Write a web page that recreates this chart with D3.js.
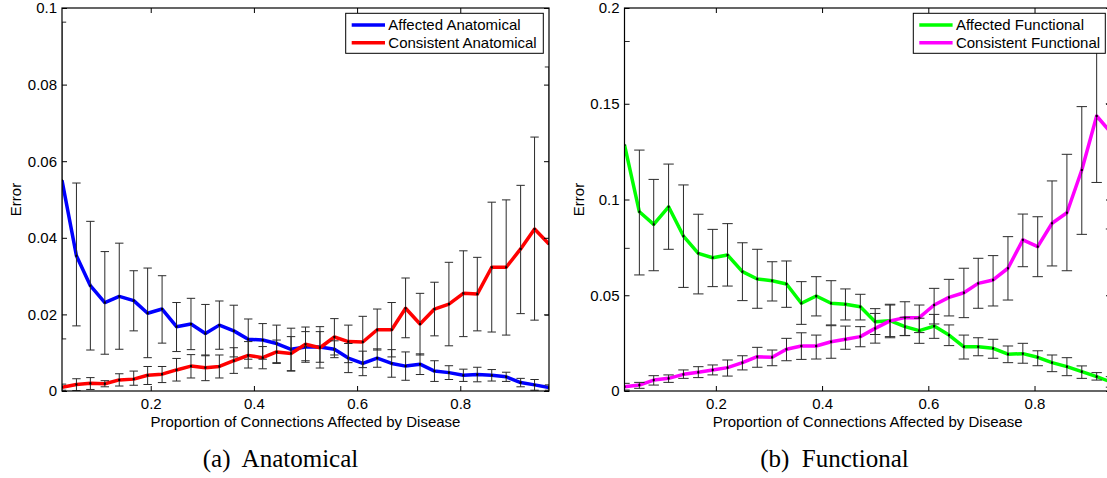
<!DOCTYPE html>
<html>
<head>
<meta charset="utf-8">
<script src="https://cdn.jsdelivr.net/npm/d3@7"></script>
<style>
  body { margin: 0; background: #fff; }
  svg text { font-family: "Liberation Sans", Arial, Helvetica, sans-serif; }
</style>
</head>
<body>
<div id="chart"></div>
<script>
// proportion of connections affected (x values)
const proportion = [0.028, 0.056, 0.083, 0.111, 0.139, 0.167, 0.194, 0.222, 0.250, 0.278,
  0.306, 0.333, 0.361, 0.389, 0.417, 0.444, 0.472, 0.500, 0.528, 0.556,
  0.583, 0.611, 0.639, 0.667, 0.694, 0.722, 0.750, 0.778, 0.806, 0.833,
  0.861, 0.889, 0.917, 0.944, 0.972];

// (a) anatomical
const affAnat = [0.0550, 0.0353, 0.0275, 0.0231, 0.0247, 0.0236, 0.0203, 0.0214, 0.0168, 0.0175,
  0.0150, 0.0172, 0.0157, 0.0135, 0.0133, 0.0124, 0.0109, 0.0115, 0.0115, 0.0109,
  0.0086, 0.0072, 0.0086, 0.0072, 0.0065, 0.0070, 0.0052, 0.0048, 0.0041, 0.0043,
  0.0041, 0.0037, 0.0022, 0.0016, 0.0009];
const affAnatLo = [0.0136, 0.0170, 0.0107, 0.0096, 0.0109, 0.0157, 0.0087, 0.0125, 0.0103, 0.0108,
  0.0092, 0.0109, 0.0089, 0.0083, 0.0083, 0.0074, 0.0052, 0.0075, 0.0075, 0.0087,
  0.0048, 0.0040, 0.0062, 0.0036, 0.0028, 0.0043, 0.0025, 0.0030, 0.0025, 0.0024,
  0.0026, 0.0025, 0.0011, 0.0002, 0.0002];
const affAnatHi = [0.0963, 0.0543, 0.0443, 0.0364, 0.0386, 0.0314, 0.0321, 0.0301, 0.0231, 0.0242,
  0.0226, 0.0235, 0.0224, 0.0188, 0.0176, 0.0172, 0.0164, 0.0155, 0.0155, 0.0131,
  0.0124, 0.0104, 0.0110, 0.0108, 0.0102, 0.0097, 0.0079, 0.0066, 0.0057, 0.0062,
  0.0056, 0.0049, 0.0033, 0.0030, 0.0016];
const consAnat = [0.0010, 0.0017, 0.0020, 0.0019, 0.0029, 0.0031, 0.0041, 0.0044, 0.0055, 0.0065,
  0.0061, 0.0064, 0.0079, 0.0093, 0.0087, 0.0102, 0.0098, 0.0122, 0.0113, 0.0141,
  0.0129, 0.0128, 0.0160, 0.0160, 0.0216, 0.0175, 0.0214, 0.0227, 0.0255, 0.0253,
  0.0323, 0.0323, 0.0371, 0.0423, 0.0384];
const consAnatLo = [0.0002, 0.0001, 0.0004, 0.0011, 0.0013, 0.0015, 0.0017, 0.0022, 0.0026, 0.0034,
  0.0027, 0.0034, 0.0046, 0.0060, 0.0058, 0.0072, 0.0053, 0.0079, 0.0060, 0.0094,
  0.0074, 0.0061, 0.0107, 0.0089, 0.0139, 0.0094, 0.0144, 0.0118, 0.0142, 0.0157,
  0.0154, 0.0146, 0.0202, 0.0185, 0.0198];
const consAnatHi = [0.0018, 0.0032, 0.0035, 0.0027, 0.0045, 0.0052, 0.0064, 0.0064, 0.0085, 0.0095,
  0.0094, 0.0094, 0.0113, 0.0129, 0.0116, 0.0133, 0.0142, 0.0167, 0.0168, 0.0189,
  0.0172, 0.0195, 0.0214, 0.0231, 0.0295, 0.0255, 0.0284, 0.0336, 0.0366, 0.0349,
  0.0493, 0.0499, 0.0537, 0.0663, 0.0846];

// (b) functional
const affFunc = [0.1285, 0.0936, 0.0870, 0.0962, 0.0809, 0.0719, 0.0696, 0.0710, 0.0623, 0.0585,
  0.0576, 0.0559, 0.0458, 0.0496, 0.0458, 0.0453, 0.0440, 0.0362, 0.0367, 0.0336,
  0.0315, 0.0339, 0.0292, 0.0231, 0.0231, 0.0223, 0.0192, 0.0195, 0.0176, 0.0148,
  0.0127, 0.0101, 0.0075, 0.0047];
const affFuncLo = [0.0745, 0.0606, 0.0628, 0.0740, 0.0541, 0.0507, 0.0545, 0.0548, 0.0472, 0.0432,
  0.0470, 0.0437, 0.0348, 0.0392, 0.0345, 0.0371, 0.0371, 0.0295, 0.0284, 0.0290,
  0.0249, 0.0275, 0.0237, 0.0167, 0.0184, 0.0171, 0.0148, 0.0145, 0.0132, 0.0101,
  0.0080, 0.0066, 0.0057, 0.0020];
const affFuncHi = [0.1825, 0.1258, 0.1105, 0.1185, 0.1076, 0.0923, 0.0844, 0.0874, 0.0774, 0.0740,
  0.0675, 0.0679, 0.0571, 0.0597, 0.0576, 0.0533, 0.0505, 0.0430, 0.0449, 0.0385,
  0.0380, 0.0400, 0.0345, 0.0292, 0.0278, 0.0270, 0.0235, 0.0249, 0.0210, 0.0188,
  0.0174, 0.0131, 0.0096, 0.0075];
const consFunc = [0.0022, 0.0031, 0.0057, 0.0066, 0.0087, 0.0098, 0.0110, 0.0122, 0.0148, 0.0179,
  0.0176, 0.0218, 0.0235, 0.0235, 0.0257, 0.0270, 0.0284, 0.0327, 0.0366, 0.0383,
  0.0383, 0.0449, 0.0489, 0.0513, 0.0562, 0.0580, 0.0641, 0.0789, 0.0754, 0.0876,
  0.0931, 0.1154, 0.1436, 0.1349];
const consFuncLo = [0.0005, 0.0014, 0.0031, 0.0045, 0.0066, 0.0070, 0.0084, 0.0078, 0.0110, 0.0124,
  0.0132, 0.0158, 0.0165, 0.0167, 0.0171, 0.0218, 0.0231, 0.0250, 0.0278, 0.0289,
  0.0305, 0.0350, 0.0392, 0.0383, 0.0432, 0.0444, 0.0475, 0.0649, 0.0597, 0.0653,
  0.0628, 0.0818, 0.1089, 0.0846];
const consFuncHi = [0.0040, 0.0045, 0.0080, 0.0084, 0.0110, 0.0127, 0.0136, 0.0162, 0.0184, 0.0228,
  0.0214, 0.0275, 0.0304, 0.0292, 0.0341, 0.0339, 0.0336, 0.0405, 0.0453, 0.0466,
  0.0449, 0.0536, 0.0583, 0.0641, 0.0693, 0.0707, 0.0806, 0.0924, 0.0910, 0.1097,
  0.1236, 0.1485, 0.1783, 0.1500];

const yTicksAnat = [0, 0.02, 0.04, 0.06, 0.08, 0.1];
const yTicksFunc = [0, 0.05, 0.1, 0.15, 0.2];
const xTicks = [0.2, 0.4, 0.6, 0.8];

const W = 1107, H = 478;
const svg = d3.select("#chart").append("svg")
  .attr("width", W).attr("height", H)
  .style("display", "block");

function series(xs, ys, lo, hi) {
  return ys.map((v, i) => ({ x: xs[i], y: v, lo: lo[i], hi: hi[i] }));
}

function drawPanel(opt) {
  const x = d3.scaleLinear().domain(opt.xDomain).range([opt.left, opt.right]);
  const y = d3.scaleLinear().domain(opt.yDomain).range([391, 8]);
  const g = svg.append("g");

  g.append("clipPath").attr("id", opt.id)
    .append("rect")
    .attr("x", opt.left).attr("y", 8)
    .attr("width", opt.right - opt.left).attr("height", 383);

  const plot = g.append("g").attr("clip-path", `url(#${opt.id})`);
  const line = d3.line().x(d => x(d.x)).y(d => y(d.y));

  // lines first, bars on top (as in the original)
  opt.series.forEach(s => {
    plot.append("path")
      .datum(s.data)
      .attr("fill", "none")
      .attr("stroke", s.color)
      .attr("stroke-width", 3.5)
      .attr("stroke-linejoin", "round")
      .attr("d", line);
  });

  opt.series.forEach(s => {
    const bars = plot.append("g")
      .attr("stroke", "#2a2a2a")
      .attr("stroke-width", 1)
      .selectAll("g")
      .data(s.data)
      .join("g");
    bars.append("line")
      .attr("x1", d => x(d.x)).attr("x2", d => x(d.x))
      .attr("y1", d => y(d.lo)).attr("y2", d => y(d.hi));
    bars.append("line")
      .attr("x1", d => x(d.x) - opt.cap).attr("x2", d => x(d.x) + opt.cap)
      .attr("y1", d => y(d.lo)).attr("y2", d => y(d.lo));
    bars.append("line")
      .attr("x1", d => x(d.x) - opt.cap).attr("x2", d => x(d.x) + opt.cap)
      .attr("y1", d => y(d.hi)).attr("y2", d => y(d.hi));
    bars.append("rect")
      .attr("stroke", "none").attr("fill", "#000")
      .attr("x", d => x(d.x) - 1).attr("y", d => y(d.y) - 1)
      .attr("width", 2).attr("height", 2);
  });

  // axes: ticks point inward on all four sides
  const axL = g.append("g").attr("transform", `translate(${opt.left},0)`)
    .call(d3.axisLeft(y).tickValues(opt.yTicks).tickSizeInner(-5).tickSizeOuter(0)
      .tickPadding(5).tickFormat(d3.format("~g")));
  const axR = g.append("g").attr("transform", `translate(${opt.right},0)`)
    .call(d3.axisRight(y).tickValues(opt.yTicks).tickSizeInner(-5).tickSizeOuter(0).tickFormat(""));
  const axB = g.append("g").attr("transform", `translate(0,391)`)
    .call(d3.axisBottom(x).tickValues(xTicks).tickSizeInner(-5).tickSizeOuter(0)
      .tickPadding(7.5).tickFormat(d3.format("~g")));
  const axT = g.append("g").attr("transform", `translate(0,8)`)
    .call(d3.axisTop(x).tickValues(xTicks).tickSizeInner(-5).tickSizeOuter(0).tickFormat(""));
  [axL, axR, axB, axT].forEach(a => {
    a.select(".domain").remove();
    a.selectAll("line").attr("stroke", "#000");
    a.selectAll("text").attr("font-size", 15).attr("fill", "#000")
      .style("font-family", "'Liberation Sans', Arial, sans-serif");
  });

  g.append("rect")
    .attr("x", opt.left).attr("y", 8)
    .attr("width", opt.right - opt.left).attr("height", 383)
    .attr("fill", "none").attr("stroke", "#000").attr("stroke-width", 1.2);

  // axis titles
  g.append("text")
    .attr("x", (opt.left + opt.right) / 2).attr("y", 426.5)
    .attr("text-anchor", "middle").attr("font-size", 15)
    .text("Proportion of Connections Affected by Disease");
  g.append("text")
    .attr("transform", `translate(${opt.left - 41},${(8 + 391) / 2}) rotate(-90)`)
    .attr("text-anchor", "middle").attr("font-size", 15)
    .text("Error");

  // legend
  const lg = g.append("g")
    .attr("transform", `translate(${opt.right - 5.7 - opt.legendW},13.3)`);
  lg.append("rect")
    .attr("width", opt.legendW).attr("height", 40)
    .attr("fill", "#fff").attr("stroke", "#000").attr("stroke-width", 1);
  const items = lg.selectAll("g.item").data(opt.series).join("g")
    .attr("transform", (d, i) => `translate(0,${11.7 + i * 17.7})`);
  items.append("line")
    .attr("x1", 6).attr("x2", 39.3).attr("y1", 0).attr("y2", 0)
    .attr("stroke", d => d.color).attr("stroke-width", 3.5);
  items.append("text")
    .attr("x", 42.6).attr("y", 5.3).attr("font-size", 15)
    .text(d => d.name);

  // caption
  svg.append("text")
    .attr("x", opt.captionX).attr("y", 467)
    .attr("text-anchor", "middle")
    .attr("font-size", 25)
    .style("font-family", "'Liberation Serif', 'Times New Roman', serif")
    .style("white-space", "pre")
    .text(opt.caption);
}

const nA = affAnat.length, nF = affFunc.length;

drawPanel({
  id: "clipA", left: 62, right: 549, cap: 4.2,
  xDomain: [proportion[0], proportion[nA - 1]],
  yDomain: [0, 0.1], yTicks: yTicksAnat, legendW: 197.6,
  caption: "(a)  Anatomical", captionX: 280.5,
  series: [
    { name: "Affected Anatomical", color: "#0000ff",
      data: series(proportion, affAnat, affAnatLo, affAnatHi) },
    { name: "Consistent Anatomical", color: "#ff0000",
      data: series(proportion, consAnat, consAnatLo, consAnatHi) }
  ]
});

drawPanel({
  id: "clipF", left: 624.5, right: 1111, cap: 5.2,
  xDomain: [proportion[0], proportion[nF - 1]],
  yDomain: [0, 0.2], yTicks: yTicksFunc, legendW: 192,
  caption: "(b)  Functional", captionX: 834.5,
  series: [
    { name: "Affected Functional", color: "#00ff00",
      data: series(proportion, affFunc, affFuncLo, affFuncHi) },
    { name: "Consistent Functional", color: "#ff00ff",
      data: series(proportion, consFunc, consFuncLo, consFuncHi) }
  ]
});
</script>
</body>
</html>
